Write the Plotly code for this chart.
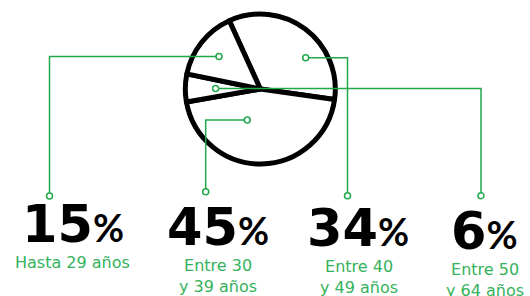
import plotly.graph_objects as go

# ---- data ----
categories = ["Hasta 29 años", "Entre 30<br>y 39 años", "Entre 40<br>y 49 años", "Entre 50<br>y 64 años"]
shares = [15, 45, 34, 6]
pie_order = [2, 1, 3, 0]  # clockwise drawing order of the slices

# ---- layout constants (pixels) ----
W, H = 530, 296
PIE_C = (260.3, 89.0)
PIE_R = 75.0
ROTATION = -24.4
# callout: inner anchor (x, y), drop column x, bottom dot y
callouts = [
    ((219.0, 56.5), 49.5, 196.0),
    ((247.3, 120.0), 205.7, 191.7),
    ((305.7, 57.7), 347.5, 195.7),
    ((215.7, 88.5), 481.0, 195.7),
]
num_pos = [(72.5, 255.5), (217.5, 258.5), (358.0, 260.0), (484.0, 262.5)]   # center x, bottom y
lab_pos = [(72.5, 251.0), (217.5, 253.5), (359.0, 254.5), (484.5, 258.0)]   # center x, top y

GREEN_LINE = "#22a84b"
GREEN_TEXT = "#35b25c"


def px(x):
    return x / W


def py(y):
    return 1 - y / H


fig = go.Figure()
fig.add_trace(go.Pie(
    labels=[categories[i] for i in pie_order],
    values=[shares[i] for i in pie_order],
    sort=False,
    direction="clockwise",
    rotation=ROTATION,
    marker=dict(colors=["white"] * 4, line=dict(color="black", width=5)),
    textinfo="none",
    hoverinfo="skip",
    showlegend=False,
    domain=dict(x=[px(PIE_C[0] - PIE_R), px(PIE_C[0] + PIE_R)],
                y=[py(PIE_C[1] + PIE_R), py(PIE_C[1] - PIE_R)]),
))

shapes = []
for (ax, ay), cx, by in callouts:
    shapes.append(dict(type="path", xref="paper", yref="paper", layer="above",
                       path=f"M {px(ax)},{py(ay)} L {px(cx)},{py(ay)} L {px(cx)},{py(by)}",
                       line=dict(color=GREEN_LINE, width=1.5)))
    r = 3.0
    for (dx, dy) in [(ax, ay), (cx, by)]:
        shapes.append(dict(type="circle", xref="paper", yref="paper", layer="above",
                           x0=px(dx - r), x1=px(dx + r), y0=py(dy + r), y1=py(dy - r),
                           fillcolor="white", line=dict(color=GREEN_LINE, width=1.5)))

annotations = []
for i, v in enumerate(shares):
    nx, ny = num_pos[i]
    annotations.append(dict(
        xref="paper", yref="paper", x=px(nx), y=py(ny), xanchor="center", yanchor="bottom",
        showarrow=False,
        text=f"{v}<span style='font-family:Lato;font-size:38px;font-weight:700'>%</span>",
        font=dict(family="DejaVu Sans", size=51, color="black", weight="bold"),
    ))
    lx, ly = lab_pos[i]
    annotations.append(dict(
        xref="paper", yref="paper", x=px(lx), y=py(ly), xanchor="center", yanchor="top",
        showarrow=False, align="center",
        text=categories[i],
        font=dict(family="DejaVu Sans", size=16, color=GREEN_TEXT),
    ))

fig.update_layout(
    width=W, height=H,
    margin=dict(l=0, r=0, t=0, b=0),
    paper_bgcolor="white", plot_bgcolor="white",
    shapes=shapes, annotations=annotations,
)

fig.write_html(
    "out.html",
    config={"displayModeBar": False, "staticPlot": True},
    post_script="document.body.style.margin='0';document.body.style.overflow='hidden';",
)
